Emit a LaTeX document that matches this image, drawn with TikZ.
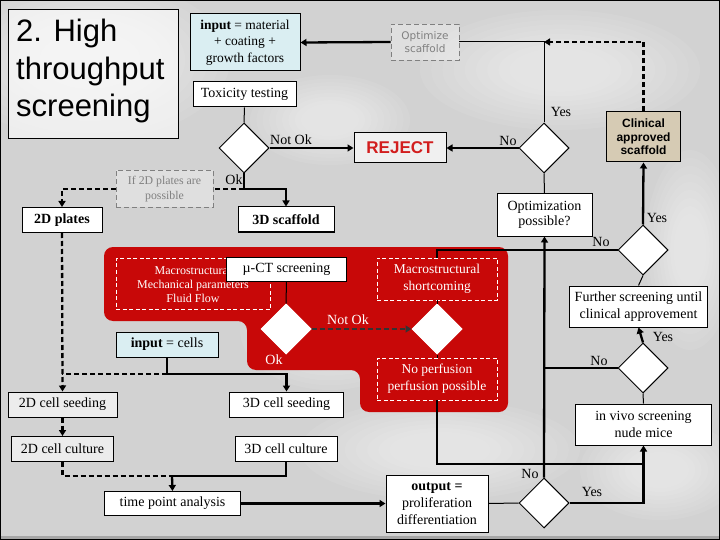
\documentclass[tikz,border=0pt]{standalone}
\usepackage{fontspec}
\setmainfont{Liberation Serif}
\newfontfamily\arialf{Liberation Sans}
\newfontfamily\verdf{DejaVu Sans}
\usetikzlibrary{arrows.meta,shapes.geometric}
\definecolor{bgc}{RGB}{210,210,210}
\definecolor{cyanbox}{RGB}{218,238,242}
\definecolor{tanbox}{RGB}{214,203,180}
\definecolor{redzone}{RGB}{200,8,8}
\definecolor{rejred}{RGB}{210,30,30}
\tikzset{
  box/.style={draw=black, line width=1pt, fill=white, inner sep=1pt, align=center,
    font=\fontsize{14}{17}\selectfont},
  wbox/.style={draw=white, dash pattern=on 4pt off 2.5pt, line width=0.8pt, inner sep=1pt, align=center, text=white,
    font=\fontsize{13.5}{17}\selectfont},
  dec/.style={diamond, draw=black, line width=1pt, fill=white, minimum width=50pt, minimum height=50pt, inner sep=0pt},
  lab/.style={font=\fontsize{14}{16}\selectfont, inner sep=0pt},
  thin/.style={line width=1pt},
  thk/.style={line width=2.3pt},
  dsh/.style={dash pattern=on 5pt off 3pt},
  arr/.style={-{Triangle[length=6pt,width=7pt]}},
  blob/.style={fill=#1, opacity=0.07},
}
\begin{document}
\begin{tikzpicture}[x=1pt,y=-1pt]
\useasboundingbox (0,0) rectangle (720,540);
% background
\fill[bgc] (0,0) rectangle (720,540);
\foreach \r in {1,0.92,...,0.3} {
  \fill[blob=white] (90,60) ellipse ({140*\r} and {80*\r});
  \fill[blob=white] (560,70) ellipse ({140*\r} and {60*\r});
  \fill[blob=white] (440,450) ellipse ({140*\r} and {50*\r});
  \fill[blob=white] (660,470) ellipse ({80*\r} and {50*\r});
  \fill[blob=white] (690,250) ellipse ({45*\r} and {100*\r});
  \fill[blob=white] (330,120) ellipse ({80*\r} and {45*\r});
  \fill[blob=white] (330,330) ellipse ({90*\r} and {60*\r});
}
\fill[gray!70] (0,536) rectangle (720,540);
\draw[black,line width=1pt] (0.5,0.5) rectangle (719.5,539.5);

% red zone
\fill[redzone, rounded corners=9pt] (104,247) -- (508,247) -- (508,412) -- (360,412) -- (360,370) -- (247,370) -- (247,321) -- (104,321) -- cycle;

% title
\node[draw=black, line width=1pt, fill=white, fill opacity=0.6, text opacity=1, minimum width=170pt, minimum height=129pt, inner sep=0pt] (title) at (93,74.5) {};
\node[anchor=north west, align=left, inner sep=0pt, font=\arialf\fontsize{31}{37.5}\selectfont] (titletxt) at (16,19) {2. High\\throughput\\screening};

% top nodes
\node[box, fill=cyanbox, minimum width=110pt, minimum height=57pt, font=\fontsize{13.5}{16.7}\selectfont] (inp) at (245,42.5) {\textbf{input} = material\\+ coating +\\growth factors};
\node[draw=gray, dsh, line width=0.9pt, fill=white, fill opacity=0.3, text opacity=1, text=gray, minimum width=68pt, minimum height=36pt, inner sep=0pt, align=center, font=\verdf\fontsize{10.5}{13.5}\selectfont] (opt) at (425,42) {Optimize\\scaffold};
\node[box, minimum width=103pt, minimum height=25pt] (tox) at (244.5,94.5) {Toxicity testing};
\node[dec] (d2) at (244,148) {};
\node[box, fill=gray!12, minimum width=92pt, minimum height=30pt, text=rejred, font=\arialf\bfseries\fontsize{17}{20}\selectfont] (reject) at (400,148) {REJECT};
\node[dec] (d1) at (544,148) {};
\node[box, fill=tanbox, minimum width=74pt, minimum height=50pt, font=\arialf\bfseries\fontsize{12}{13.7}\selectfont] (clin) at (643.5,137) {Clinical\\approved\\scaffold};

\node[draw=gray, dsh, line width=0.9pt, fill=white, fill opacity=0.3, text opacity=1, text=gray, minimum width=97pt, minimum height=37pt, inner sep=0pt, align=center, font=\fontsize{11.8}{14.3}\selectfont] (if2d) at (164.5,189) {If 2D plates are\\possible};
\node[box, minimum width=80pt, minimum height=25pt, font=\bfseries\fontsize{14}{17}\selectfont] (plates2d) at (62,220) {2D plates};
\node[box, minimum width=96pt, minimum height=25pt, font=\bfseries\fontsize{14}{17}\selectfont] (scaf3d) at (286,219.5) {3D scaffold};
\node[box, minimum width=95pt, minimum height=42pt, font=\fontsize{14}{15.7}\selectfont] (opt2) at (544.5,215) {Optimization\\possible?};

% right column
\node[dec] (d3) at (643,250) {};
\node[box, minimum width=138pt, minimum height=41pt, font=\fontsize{14}{17.5}\selectfont] (further) at (638.5,306.5) {Further screening until\\clinical approvement};
\node[dec] (d4) at (643,368) {};
\node[box, minimum width=136pt, minimum height=41pt, font=\fontsize{14}{17}\selectfont] (vivo) at (643.5,424.5) {in vivo screening\\nude mice};
\node[dec] (d7) at (544,503) {};
\node[box, minimum width=102pt, minimum height=57pt, font=\fontsize{14}{17}\selectfont] (output) at (437,503.5) {\textbf{output =}\\proliferation\\differentiation};

% red zone nodes
\node[wbox, minimum width=154pt, minimum height=51pt, font=\fontsize{12}{14}\selectfont] (macro1) at (193,284) {Macrostructural\\Mechanical parameters\\Fluid Flow};
\node[box, minimum width=120pt, minimum height=24pt] (muct) at (286.5,269) {µ-CT screening};
\node[dec, draw=white] (d5) at (286,329) {};
\node[dec, draw=white] (d6) at (437,329) {};
\node[wbox, minimum width=120pt, minimum height=42pt] (macro2) at (437,279) {Macrostructural\\shortcoming};
\node[wbox, minimum width=120pt, minimum height=42pt] (noperf) at (437,379) {No perfusion\\perfusion possible};

% lower left
\node[box, fill=cyanbox, minimum width=102pt, minimum height=25pt] (cells) at (167,344.5) {\textbf{input} = cells};
\node[box, fill=gray!15, minimum width=109pt, minimum height=25pt] (seed2d) at (62.5,404.5) {2D cell seeding};
\node[box, fill=gray!15, minimum width=102pt, minimum height=25pt] (cult2d) at (62.5,449) {2D cell culture};
\node[box, minimum width=114pt, minimum height=25pt] (seed3d) at (286.5,404.5) {3D cell seeding};
\node[box, minimum width=102pt, minimum height=25pt] (cult3d) at (286,449) {3D cell culture};
\node[box, minimum width=136pt, minimum height=24pt] (tpa) at (172.5,503.5) {time point analysis};

% junction coordinates
\coordinate (j1) at (544,42);
\coordinate (j2) at (244,189);
\coordinate (j4) at (544,368);
\coordinate (j5) at (643,464);
\coordinate (j6) at (167,374);
\coordinate (j6b) at (62,374);
\coordinate (j7) at (172,476);

% connectors
\draw[thk, arr] (opt.west) -- (inp.east);
\draw[thin] (opt.east) -| (d1.north);
\draw[thk, dsh, arr] (clin.north) |- (j1);
\draw[thin] (tox.south) -- (d2.north);
\draw[thk, arr] (d2.east) -- (reject.west);
\draw[thk, arr] (d1.west) -- (reject.east);
\draw[thk, arr] (d2.south) -- (j2) -| (scaf3d.north);
\draw[thk, dsh] (j2) -- (if2d.east);
\draw[thk, dsh, arr] (if2d.west) -| (plates2d.north);
\draw[thin] (d1.south) -- (opt2.north);
\draw[thk, arr] (d3.north) -- (clin.south);
\draw[thk] (d3.west) -| (macro2.north);
\draw[thin] (d3.south) -- (further.north);
\draw[thk, arr] (d4.north) -- (further.south);
\draw[thin] (d4.south) -- (vivo.north);
\draw[thk] (d4.west) -- (j4);
\draw[thk, arr] (d7.north) -- (opt2.south);
\draw[thin] (muct.south) -- (d5.north);
\draw[thk, dsh, black!80, arr] (d5.east) -- (d6.west);
\draw[thin] (macro2.south) -- (d6.north);
\draw[thin] (d6.south) -- (noperf.north);
\draw[thk] (noperf.south) |- (j5);
\draw[thk, arr] (d7.east) -| (vivo.south);
\draw[thin] (output.east) -- (d7.west);
\draw[thk, arr] (tpa.east) -- (output.west);
\draw[thk, dsh, arr] (plates2d.south) -- (seed2d.north);
\draw[thk, arr] (cells.south) -- (j6) -| (seed3d.north);
\draw[thk, dsh] (j6) -- (j6b);
\draw[thk, dsh, arr] (seed2d.south) -- (cult2d.north);
\draw[thk, dsh] (cult2d.south) |- (j7);
\draw[thk] (cult3d.south) |- (j7);
\draw[thk, arr] (j7) -- (tpa.north);

% labels
\node[lab] (l1) at (561,112) {Yes};
\node[lab] (l2) at (508,141) {No};
\node[lab] (l3) at (291,140) {Not Ok};
\node[lab] (l4) at (234,180) {Ok};
\node[lab] (l5) at (657,218) {Yes};
\node[lab] (l6) at (601,242) {No};
\node[lab] (l7) at (663,337) {Yes};
\node[lab] (l8) at (599,361) {No};
\node[lab] (l9) at (530,474) {No};
\node[lab] (l10) at (592,492) {Yes};
\node[lab, text=white] (l11) at (348,320) {Not Ok};
\node[lab, text=white] (l12) at (274,360) {Ok};
\end{tikzpicture}
\end{document}
